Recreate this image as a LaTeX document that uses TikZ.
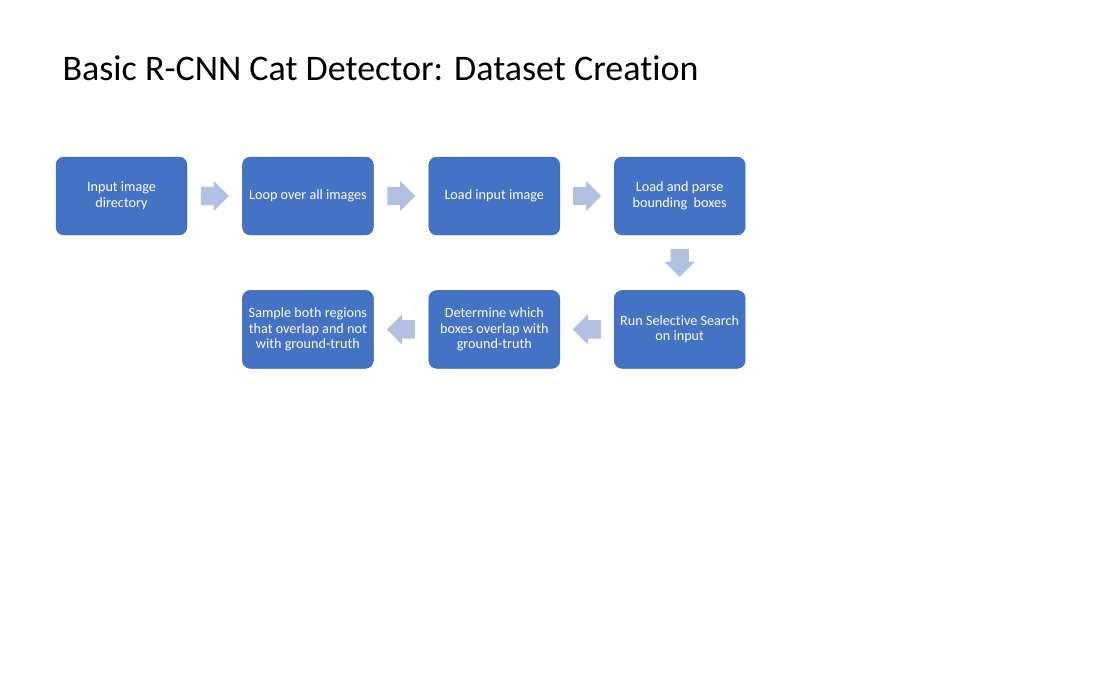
\documentclass[tikz,border=0pt]{standalone}
\usepackage{fontspec}
\setmainfont{Carlito}[Ligatures=NoCommon]
\usetikzlibrary{positioning,shapes.arrows,calc}

\definecolor{stepblue}{HTML}{4472C4}
\definecolor{arrowblue}{HTML}{B2C1E2}

\tikzset{
  stepbox/.style={fill=stepblue, draw=stepblue!85!black, line width=0.4pt,
    rounded corners=8pt, minimum width=131pt, minimum height=78pt,
    text=white, align=center, font=\fontsize{14.2}{15.5}\selectfont, inner sep=2pt},
  blockarrow/.style={single arrow, fill=arrowblue, draw=none,
    minimum height=28pt, single arrow head extend=6pt, inner sep=9pt, anchor=tail}
}

\begin{document}
\begin{tikzpicture}[x=1pt,y=-1pt]

	\useasboundingbox (0,0) rectangle (1102,689);

	\node[anchor=base west, font=\fontsize{36}{40}\selectfont] (title) at (59,80) {Basic R-CNN Cat Detector: Dataset Creation};

	% first row
	\node[stepbox] (input) at (121.5,196) {Input image\\directory};
	\node[stepbox, right=55pt of input] (loop) {Loop over all images};
	\node[stepbox, right=55pt of loop] (load) {Load input image};
	\node[stepbox, right=54pt of load] (parse) {Load and parse\\bounding\ \ boxes};

	% second row
	\node[stepbox, below=55pt of parse] (search) {Run Selective Search\\on input};
	\node[stepbox, left=54pt of search] (overlap) {Determine which\\boxes overlap with\\ground-truth};
	\node[stepbox, left=55pt of overlap] (sample) {Sample both regions\\that overlap and not\\with ground-truth};

	% arrows between the steps
	\foreach \a/\b/\dir in {input/loop/0, loop/load/0, load/parse/0, parse/search/270, search/overlap/180, overlap/sample/180}
		\node[blockarrow, shape border rotate=\dir] (arr-\a) at ($($(\a)!0.5!(\b)$)!14pt!(\a)$) {};

\end{tikzpicture}
\end{document}
